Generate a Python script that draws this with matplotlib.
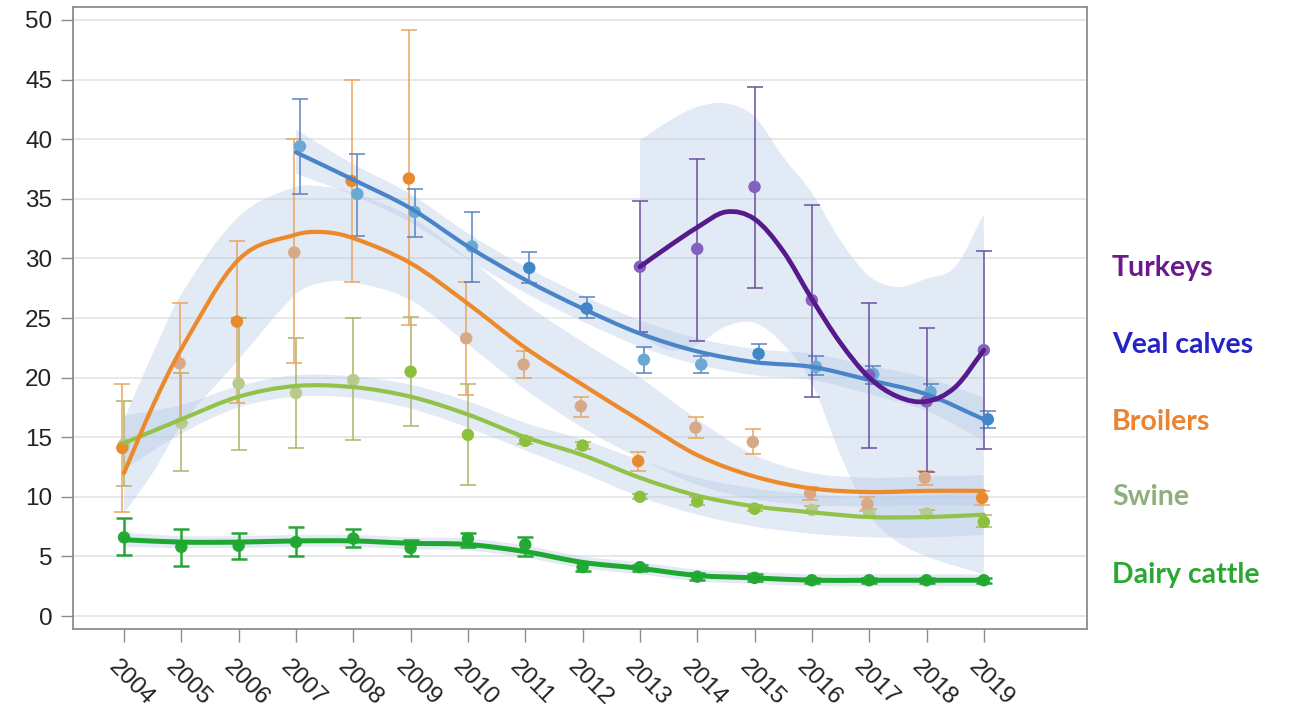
import matplotlib
matplotlib.use("Agg")
import matplotlib.pyplot as plt
import numpy as np
from matplotlib.path import Path
from matplotlib.patches import PathPatch
from matplotlib.transforms import ScaledTranslation

# --- values per livestock category -------------------------------------
years = list(range(2004, 2020))

dairy_pts = [6.6, 5.8, 5.9, 6.2, 6.5, 5.7, 6.5, 6.0, 4.1, 4.1, 3.3, 3.2, 3.0, 3.0, 3.0, 3.0]
dairy_lo = [5.1, 4.2, 4.8, 5.0, 5.8, 5.0, 5.8, 5.0, 3.8, 3.8, 3.0, 2.9, 2.8, 2.8, 2.8, 2.8]
dairy_hi = [8.2, 7.3, 7.0, 7.5, 7.3, 6.4, 7.0, 6.6, 4.5, 4.3, 3.6, 3.5, 3.2, 3.2, 3.2, 3.2]
dairy_fit = [6.4, 6.2, 6.2, 6.3, 6.3, 6.1, 6.0, 5.4, 4.5, 4.0, 3.4, 3.2, 3.0, 3.0, 3.0, 3.0]
dairy_band_lo = [5.8, 5.7, 5.7, 5.8, 5.8, 5.6, 5.5, 4.9, 4.0, 3.5, 2.9, 2.7, 2.5, 2.5, 2.5, 2.5]
dairy_band_hi = [7.0, 6.7, 6.7, 6.8, 6.8, 6.6, 6.5, 5.9, 5.0, 4.5, 3.9, 3.7, 3.5, 3.5, 3.5, 3.5]

swine_pts = [14.4, 16.2, 19.5, 18.7, 19.8, 20.5, 15.2, 14.7, 14.3, 10.0, 9.6, 9.0, 8.9, 8.7, 8.6, 7.9]
swine_lo = [10.9, 12.2, 13.9, 14.1, 14.8, 15.9, 11.0, 14.4, 14.0, 9.8, 9.3, 8.8, 8.6, 8.4, 8.3, 7.5]
swine_hi = [18.0, 20.4, 25.0, 23.3, 25.0, 25.1, 19.5, 15.0, 14.6, 10.2, 10.0, 9.3, 9.2, 9.0, 8.9, 8.5]
swine_fit = [14.5, 16.5, 18.4, 19.3, 19.2, 18.4, 16.9, 15.0, 13.5, 11.6, 10.1, 9.2, 8.7, 8.3, 8.3, 8.5]
swine_band_lo = [12.3, 15.3, 17.5, 18.4, 18.3, 17.4, 15.8, 13.9, 12.0, 10.0, 8.5, 7.5, 6.9, 6.6, 6.6, 6.8]
swine_band_hi = [16.8, 17.7, 19.3, 20.2, 20.1, 19.4, 18.0, 16.2, 14.8, 13.1, 11.6, 10.7, 10.2, 10.0, 10.1, 10.6]

broiler_pts = [14.1, 21.2, 24.7, 30.5, 36.5, 36.7, 23.3, 21.1, 17.6, 13.0, 15.8, 14.6, 10.3, 9.4, 11.6, 9.9]
broiler_lo = [8.7, 16.2, 17.9, 21.2, 28.0, 24.4, 18.5, 20.0, 16.7, 12.2, 14.9, 13.6, 9.7, 8.8, 11.0, 9.3]
broiler_hi = [19.5, 26.3, 31.5, 40.0, 45.0, 49.2, 28.0, 22.2, 18.4, 13.8, 16.7, 15.7, 10.8, 10.0, 12.2, 10.5]
broiler_fit_x = [2004, 2004.5, 2005, 2006, 2007, 2007.5, 2008, 2009, 2010, 2011, 2012,
                 2013, 2014, 2015, 2016, 2017, 2018, 2019]
broiler_fit = [12.0, 17.6, 22.4, 29.9, 32.0, 32.2, 31.7, 29.6, 26.2, 22.5, 19.4,
               16.4, 13.5, 11.7, 10.7, 10.4, 10.5, 10.5]
broiler_band_lo = [8.6, 12.0, 16.0, 21.5, 27.0, 28.0, 28.0, 26.5, 22.8, 19.0, 15.8,
                   13.2, 11.0, 9.8, 9.3, 9.2, 9.3, 9.2]
broiler_band_hi = [16.5, 22.0, 27.0, 33.5, 36.0, 36.0, 35.5, 33.5, 30.0, 26.2, 23.0,
                   20.0, 16.5, 13.5, 12.0, 11.6, 11.7, 11.8]

veal_years = list(range(2007, 2020))
veal_pts = [39.4, 35.4, 33.9, 31.0, 29.2, 25.8, 21.5, 21.1, 22.0, 20.9, 20.3, 18.8, 16.5]
veal_lo = [35.4, 31.9, 31.8, 28.0, 27.9, 25.0, 20.4, 20.4, 21.3, 20.2, 19.5, 18.0, 15.8]
veal_hi = [43.4, 38.8, 35.8, 33.9, 30.5, 26.8, 22.6, 21.8, 22.8, 21.8, 21.0, 19.5, 17.2]
veal_fit = [38.9, 36.6, 34.2, 31.0, 28.2, 25.8, 23.7, 22.2, 21.3, 20.9, 19.8, 18.6, 16.5]
veal_band_lo = [37.1, 35.3, 33.0, 29.9, 27.1, 24.7, 22.6, 21.1, 20.2, 19.8, 18.6, 17.2, 14.7]
veal_band_hi = [40.8, 37.9, 35.4, 32.1, 29.3, 26.9, 24.8, 23.3, 22.4, 22.0, 21.0, 20.0, 18.3]

turkey_years = list(range(2013, 2020))
turkey_pts = [29.3, 30.8, 36.0, 26.5, 20.2, 18.0, 22.3]
turkey_lo = [23.8, 23.1, 27.5, 18.4, 14.1, 12.1, 14.0]
turkey_hi = [34.8, 38.3, 44.4, 34.5, 26.3, 24.2, 30.6]
turkey_fit_x = [2013, 2013.5, 2014, 2014.5, 2015, 2015.5, 2016, 2016.5, 2017, 2017.5, 2018, 2018.5, 2019]
turkey_fit = [29.3, 31.0, 32.6, 33.9, 33.3, 30.6, 26.6, 22.9, 20.0, 18.4, 18.0, 19.2, 22.3]
turkey_band_lo = [23.5, 22.3, 22.8, 24.3, 24.6, 22.8, 19.5, 13.5, 8.5, 6.2, 5.0, 4.2, 3.5]
turkey_band_hi = [39.9, 41.5, 42.7, 43.0, 41.9, 38.5, 35.5, 31.5, 28.5, 27.6, 28.3, 29.3, 33.7]

labels = ["Turkeys", "Veal calves", "Broilers", "Swine", "Dairy cattle"]

# point shading (1 = saturated tone, 0 = pale tone)
broiler_tone = [1, 0, 1, 0, 1, 1, 0, 0, 0, 1, 0, 0, 0, 0, 0, 1]
swine_tone = [0, 0, 0, 0, 0, 1, 1, 1, 1, 1, 1, 1, 0, 0, 0, 1]
veal_tone = [0, 0, 0, 0, 1, 1, 0, 0, 1, 0, 0, 0, 1]


def smooth_verts(xs, ys):
    """Cubic Bezier control points for a smooth curve through the knots."""
    xs = np.asarray(xs, float)
    ys = np.asarray(ys, float)
    m = np.empty(len(xs))
    m[1:-1] = (ys[2:] - ys[:-2]) / (xs[2:] - xs[:-2])
    m[0] = (ys[1] - ys[0]) / (xs[1] - xs[0])
    m[-1] = (ys[-1] - ys[-2]) / (xs[-1] - xs[-2])
    verts = [(xs[0], ys[0])]
    for i in range(len(xs) - 1):
        h = xs[i + 1] - xs[i]
        verts += [(xs[i] + h / 3, ys[i] + m[i] * h / 3),
                  (xs[i + 1] - h / 3, ys[i + 1] - m[i + 1] * h / 3),
                  (xs[i + 1], ys[i + 1])]
    return verts


def draw_curve(ax, xs, ys, color, lw):
    verts = smooth_verts(xs, ys)
    codes = [Path.MOVETO] + [Path.CURVE4] * (len(verts) - 1)
    ax.add_patch(PathPatch(Path(verts, codes), fill=False, edgecolor=color, lw=lw,
                           capstyle="round", joinstyle="round", zorder=5))


def draw_band(ax, xs, lo, hi):
    upper = smooth_verts(xs, hi)
    lower = smooth_verts(xs[::-1], lo[::-1])
    verts = upper + lower + [upper[0]]
    codes = ([Path.MOVETO] + [Path.CURVE4] * (len(upper) - 1)
             + [Path.LINETO] + [Path.CURVE4] * (len(lower) - 1) + [Path.CLOSEPOLY])
    ax.add_patch(PathPatch(Path(verts, codes), facecolor="#b9cde8", edgecolor="none",
                           alpha=0.42, zorder=1))


def draw_points(ax, xs, vals, lo, hi, colors, ecolor, dx=0.0, elw=1.1, cap=12):
    xs = np.asarray(xs, float) + dx
    vals = np.asarray(vals)
    yerr = [vals - np.asarray(lo), np.asarray(hi) - vals]
    ax.errorbar(xs, vals, yerr=yerr, fmt="none", ecolor=ecolor, elinewidth=elw,
                capsize=cap / 2, capthick=elw, zorder=2)
    ax.scatter(xs, vals, s=80, c=colors, edgecolors="none", zorder=3)


plt.rcParams["font.family"] = ["Liberation Sans", "DejaVu Sans"]

fig = plt.figure(figsize=(12.99, 7.13), dpi=100)
ax = fig.add_axes([73 / 1299, 1 - 629 / 713, (1087 - 73) / 1299, (629 - 7) / 713])

ax.set_xlim(2003.11, 2020.8)
ax.set_ylim(-1.09, 51.09)

# confidence bands
draw_band(ax, turkey_fit_x, turkey_band_lo, turkey_band_hi)
draw_band(ax, veal_years, veal_band_lo, veal_band_hi)
draw_band(ax, broiler_fit_x, broiler_band_lo, broiler_band_hi)
draw_band(ax, years, swine_band_lo, swine_band_hi)
draw_band(ax, years, dairy_band_lo, dairy_band_hi)

# yearly estimates with error bars
draw_points(ax, years, swine_pts, swine_lo, swine_hi,
            ["#8cbf3c" if t else "#b8ca8c" for t in swine_tone], "#adb46a")
draw_points(ax, years, broiler_pts, broiler_lo, broiler_hi,
            ["#e98a2e" if t else "#d8a987" for t in broiler_tone], "#eaa65e", dx=-0.03)
draw_points(ax, veal_years, veal_pts, veal_lo, veal_hi,
            ["#3f87c7" if t else "#6aa9d6" for t in veal_tone], "#5a84c0", dx=0.07)
draw_points(ax, turkey_years, turkey_pts, turkey_lo, turkey_hi,
            ["#8660c0"] * len(turkey_pts), "#6b4f9e")
draw_points(ax, years, dairy_pts, dairy_lo, dairy_hi,
            ["#25a935"] * len(dairy_pts), "#27a637", elw=1.8)

# fitted trends
draw_curve(ax, years, swine_fit, "#93c24a", 3.0)
draw_curve(ax, broiler_fit_x, broiler_fit, "#ec8a2b", 3.0)
draw_curve(ax, veal_years, veal_fit, "#4a84c8", 3.0)
draw_curve(ax, years, dairy_fit, "#1fa830", 3.6)
draw_curve(ax, turkey_fit_x, turkey_fit, "#561a8a", 3.4)

# axes styling
ax.set_yticks(range(0, 51, 5))
ax.set_xticks(years)
ax.set_xticklabels([str(y) for y in years])
ax.grid(axis="y", color="#e4e4e4", lw=1.2, zorder=0)
ax.set_axisbelow(True)
for side in ax.spines.values():
    side.set_color("#8c8c8c")
    side.set_linewidth(1.3)
ax.tick_params(axis="y", length=9, width=1, color="#8c8c8c", pad=6,
               labelsize=17.5, labelcolor="#222222")
ax.tick_params(axis="x", length=9, width=1, color="#8c8c8c", pad=16,
               labelsize=17.5, labelcolor="#222222")
shift = ScaledTranslation(-12 / 100, 0, fig.dpi_scale_trans)
for lab in ax.get_xticklabels():
    lab.set_rotation(-45)
    lab.set_rotation_mode("anchor")
    lab.set_ha("left")
    lab.set_va("center")
    lab.set_transform(lab.get_transform() + shift)

# category labels at the right
label_colors = ["#6a1a8c", "#2323c8", "#ea8430", "#8db07e", "#2aa832"]
label_y = [268, 345, 422, 497, 575]
for text, col, yy in zip(labels, label_colors, label_y):
    fig.text(1112 / 1299, 1 - yy / 713, text, color=col, fontsize=20.5,
             fontweight="bold", family=["Lato", "DejaVu Sans"], va="center", ha="left")

fig.savefig("out.png", dpi=100)
